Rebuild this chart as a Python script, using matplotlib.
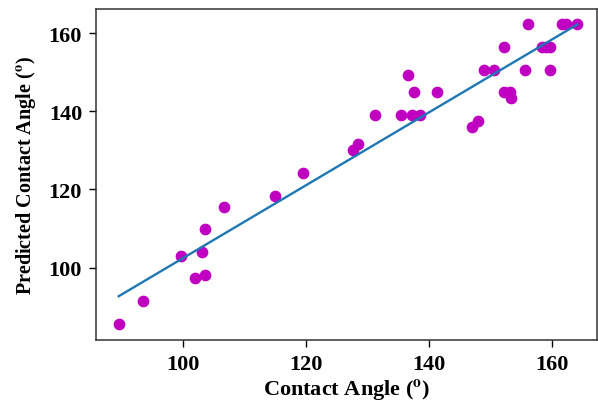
import numpy as np
import matplotlib.pyplot as plt

plt.rcParams['font.family'] = ['Liberation Serif', 'DejaVu Serif']
plt.rcParams['font.weight'] = 'bold'
plt.rcParams['mathtext.fontset'] = 'stix'

actual = [89.5, 93.45, 99.6, 101.95, 103.5, 103.0, 103.5, 106.6, 115.0, 119.5,
          127.6, 128.5, 131.3, 135.5, 136.6, 137.2, 137.6, 138.6, 141.3, 147.0,
          148.0, 149.0, 150.6, 152.2, 152.2, 153.2, 153.3, 155.7, 156.1, 158.5,
          159.1, 159.7, 159.7, 161.7, 162.4, 164.2]
predicted = [85.7, 91.4, 103.1, 97.3, 98.2, 104.0, 109.9, 115.6, 118.3, 124.2,
             130.1, 131.7, 139.0, 139.0, 149.2, 139.0, 144.8, 139.0, 144.8, 135.9,
             137.5, 150.6, 150.6, 156.4, 144.8, 144.8, 143.3, 150.6, 162.2, 156.4,
             156.4, 156.4, 150.6, 162.2, 162.2, 162.2]

# fitted line end points
line_x = [89.5, 164.2]
line_y = [92.7, 162.2]

fig = plt.figure(figsize=(5.98, 4.06), dpi=100)
ax = fig.add_axes([0.1605, 0.160, 0.838, 0.815])

ax.scatter(actual, predicted, s=55, color='#c000c0', zorder=2)
ax.plot(line_x, line_y, color='#1f77b4', linewidth=1.7, zorder=3)

ax.set_xlim(85.8, 167.4)
ax.set_ylim(81.5, 166.1)
ax.set_xticks([100, 120, 140, 160])
ax.set_yticks([100, 120, 140, 160])
ax.tick_params(direction='out', length=5, width=1, labelsize=16, colors='black', pad=5)
for sp in ax.spines.values():
    sp.set_color('#333333')
    sp.set_linewidth(1.1)

ax.set_xlabel(r'Contact Angle ($^{\mathbf{o}}$)', fontsize=16, fontweight='bold', labelpad=2)
ax.set_ylabel(r'Predicted Contact Angle ($^{\mathbf{o}}$)', fontsize=14.5, fontweight='bold', labelpad=8)

fig.savefig('out.png', dpi=100)
